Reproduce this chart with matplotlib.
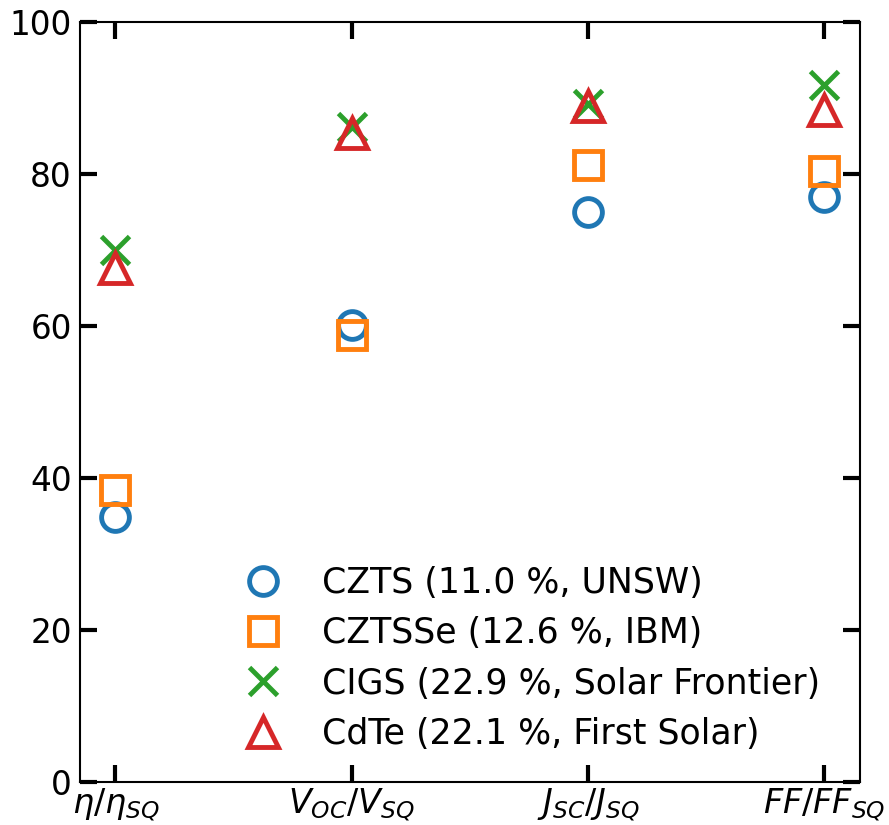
import matplotlib
matplotlib.use('Agg')
import matplotlib.pyplot as plt
import numpy as np

# ratios to the Shockley-Queisser limit (%)
categories = [r'$\eta/\eta_{SQ}$', r'$V_{OC}/V_{SQ}$', r'$J_{SC}/J_{SQ}$', r'$FF/FF_{SQ}$']

czts = [34.9, 60.1, 75.0, 77.0]
cztsse = [38.4, 58.8, 81.2, 80.4]
cigs = [70.0, 86.2, 89.3, 91.7]
cdte = [67.6, 85.4, 89.0, 88.4]

labels = ['CZTS (11.0 %, UNSW)', 'CZTSSe (12.6 %, IBM)',
          'CIGS (22.9 %, Solar Frontier)', 'CdTe (22.1 %, First Solar)']

plt.rcParams['font.size'] = 23.5
plt.rcParams['mathtext.fontset'] = 'dejavusans'

fig = plt.figure(figsize=(8.89, 8.25), dpi=100)
ax = fig.add_axes([0.09, 0.052, 0.877, 0.921])

x = np.arange(len(categories))
ax.plot(x, czts, 'o', ms=20, mfc='none', mew=3.5, color='#1f77b4', label=labels[0])
ax.plot(x, cztsse, 's', ms=20, mfc='none', mew=3.5, color='#ff7f0e', label=labels[1])
ax.plot(x, cigs, 'x', ms=20, mew=3.5, color='#2ca02c', label=labels[2])
ax.plot(x, cdte, '^', ms=22, mfc='none', mew=3.5, color='#d62728', label=labels[3])

ax.set_xlim(-0.15, 3.15)
ax.set_ylim(0, 100)
ax.set_xticks(x)
ax.set_xticklabels(categories, fontsize=24)
ax.set_yticks(np.arange(0, 101, 20))
ax.tick_params(direction='in', length=12, width=3, top=True, right=True, pad=6)
ax.tick_params(axis='x', pad=3)
for s in ax.spines.values():
    s.set_linewidth(1.5)

ax.legend(loc='lower center', bbox_to_anchor=(0.57, 0.0), frameon=False,
          fontsize=25, handletextpad=0.7, labelspacing=0.47, borderaxespad=0.5)

fig.savefig('out.png', dpi=100)
